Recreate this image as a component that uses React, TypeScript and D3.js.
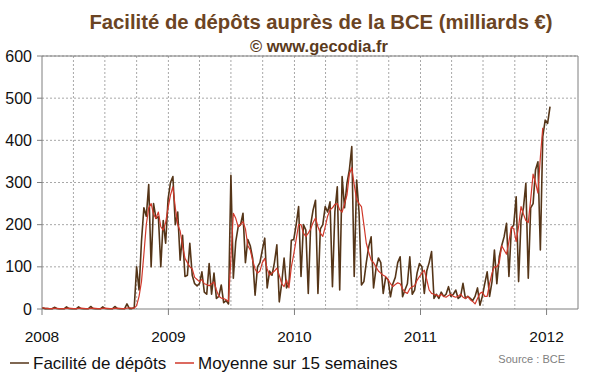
import React from "react";
import * as d3 from "d3";

// Weekly observations starting 2008-01-02 (milliards €)
const START_DATE = "2008-01-02";

const depots: number[] = [
  3, 1, 1, 0.5, 0.5, 4, 1, 0.5, 0.5, 0.5, 5, 1, 0.5, 0.5, 0.5, 5, 1, 0.5, 0.5, 0.5,
  6, 1, 0.5, 0.5, 0.5, 5, 1, 0.5, 0.5, 0.5, 6, 1, 0.5, 0.5, 0.5, 12, 1, 1,
  3, 100, 45, 160, 240, 220, 295, 100, 250, 215,
  219, 100, 210, 156, 260, 300, 314, 200, 230, 116,
  175, 77, 80, 156, 80, 60, 55, 60, 88, 40,
  35, 108, 35, 85, 25, 30, 57, 15, 20, 12,
  317, 73, 160, 195, 200, 227, 110, 165, 150, 120,
  33, 100, 110, 140, 168, 50, 90, 80, 110, 152,
  17, 60, 121, 50, 60, 163, 165, 200, 243, 77,
  200, 187, 37, 200, 235, 258, 37, 190, 200, 243,
  230, 254, 53, 230, 290, 45, 314, 240, 298, 330,
  385, 77, 306, 230, 57, 65, 110, 148, 171, 50,
  95, 121, 110, 37, 75, 70, 29, 60, 75, 110,
  124, 29, 45, 60, 124, 35, 45, 85, 108, 100,
  37, 90, 110, 136, 25, 35, 25, 40, 30, 35,
  53, 30, 35, 45, 25, 30, 61, 25, 30, 25,
  20, 30, 50, 9, 30, 60, 88, 30, 65, 140,
  60, 124, 150, 171, 203, 77, 190, 200, 266, 65,
  210, 240, 298, 73, 240, 250, 330, 349, 140, 409,
  448, 440, 480,
];

const moyenne: number[] = [
  3, 2, 1.5, 1, 1, 1.5, 1.5, 1, 1, 1, 1.5, 2, 1.5, 1, 1, 1.5, 2, 1.5, 1, 1,
  1.5, 2, 1.5, 1, 1, 1.5, 2, 1.5, 1, 1, 1.5, 2, 1.5, 1, 1, 2, 3, 2,
  2, 8, 30, 65, 130, 200, 240, 250, 225, 215,
  230, 195, 187, 205, 240, 270, 290, 240, 200, 185,
  150, 120, 110, 100, 95, 75, 70, 65, 70, 60,
  58, 55, 60, 64, 45, 30, 26, 25, 22, 18,
  120, 227, 215, 195, 200, 207, 190, 150, 140, 115,
  95, 85, 90, 110, 120, 95, 80, 85, 90, 97,
  80, 60, 53, 69, 50, 100, 130, 165, 200, 200,
  180, 172, 180, 190, 205, 216, 195, 180, 172, 195,
  220, 235, 240, 248, 250, 235, 230, 250, 270, 320,
  335, 295, 260, 250, 243, 200, 156, 135, 116, 110,
  100, 90, 85, 80, 77, 70, 60, 53, 58, 62,
  60, 48, 40, 37, 48, 53, 55, 68, 77, 85,
  92, 70, 45, 37, 35, 33, 30, 35, 30, 28,
  32, 35, 30, 28, 30, 35, 28, 25, 30, 22,
  18, 12, 25, 37, 40, 30, 30, 60, 85, 100,
  100, 110, 150, 140, 130, 160, 195, 190, 160, 195,
  243, 225, 210, 205, 260, 320, 300, 275, 360, 430,
];

const yTickValues = [0, 100, 200, 300, 400, 500, 600];
const yearLabels = ["2008", "2009", "2010", "2011", "2012"];

const TITLE = "Facilité de dépôts auprès de la BCE (milliards €)";
const SUBTITLE = "© www.gecodia.fr";
const LEGEND_DEPOTS = "Facilité de dépôts";
const LEGEND_MOYENNE = "Moyenne sur 15 semaines";
const SOURCE = "Source : BCE";

const FONT = "'Liberation Sans', Arial, sans-serif";

export default function App() {
  const W = 600;
  const H = 372;
  const left = 42, right = 578, top = 56, bottom = 309;

  const x = d3
    .scaleTime()
    .domain([new Date(2008, 0, 1), new Date(2012, 3, 1)])
    .range([left, right]);
  const y = d3.scaleLinear().domain([0, 600]).range([bottom, top]);

  const start = d3.timeParse("%Y-%m-%d")(START_DATE) as Date;
  const dateOf = (i: number) => d3.timeWeek.offset(start, i);

  const line = d3
    .line<number>()
    .x((_, i) => x(dateOf(i)))
    .y((d) => y(d));

  const quarters = d3.timeMonth
    .every(3)!
    .range(new Date(2008, 0, 1), new Date(2012, 3, 1));
  const years = yearLabels.map((s) => new Date(+s, 0, 1));

  const brown = "#553518";
  const red = "#d0392b";
  const gridColor = "#a8a8a8";
  const axisColor = "#7f7f7f";

  return (
    <svg
      width={W}
      height={H}
      style={{ position: "absolute", left: 0, top: 0, background: "#fff" }}
      fontFamily={FONT}
    >
      <rect x={0} y={0} width={W} height={H} fill="#fff" />
      {/* Title */}
      <text x={321} y={29} textAnchor="middle" fontSize={20.3} fontWeight="bold" fill="#6b4423">
        {TITLE}
      </text>
      <text x={319} y={52} textAnchor="middle" fontSize={16.5} fontWeight="bold" fill="#5a3a1c">
        {SUBTITLE}
      </text>

      {/* Grid */}
      {yTickValues
        .filter((v) => v > 0)
        .map((v) => (
          <line
            key={"gy" + v}
            x1={left}
            x2={right}
            y1={y(v)}
            y2={y(v)}
            stroke={gridColor}
            strokeWidth={1}
            strokeDasharray="2,2"
          />
        ))}
      {quarters
        .filter((d) => x(d) > left + 1)
        .map((d, i) => (
          <line
            key={"gx" + i}
            x1={x(d)}
            x2={x(d)}
            y1={top}
            y2={bottom}
            stroke={gridColor}
            strokeWidth={1}
            strokeDasharray="2,2"
          />
        ))}

      {/* Border */}
      <line x1={left} x2={right} y1={top} y2={top} stroke={axisColor} />
      <line x1={right} x2={right} y1={top} y2={bottom} stroke={axisColor} />
      <line x1={left} x2={left} y1={top} y2={bottom} stroke={axisColor} />
      <line x1={left} x2={right} y1={bottom} y2={bottom} stroke={axisColor} />

      {/* Y axis ticks/labels */}
      {yTickValues.map((v) => (
        <g key={"yt" + v}>
          <line x1={left - 5} x2={left} y1={y(v)} y2={y(v)} stroke={axisColor} />
          <text x={32} y={y(v) + 5.5} textAnchor="end" fontSize={16} fill="#111">
            {v}
          </text>
        </g>
      ))}

      {/* X axis ticks/labels */}
      {years.map((d, i) => (
        <g key={"xt" + i}>
          <line x1={x(d)} x2={x(d)} y1={bottom} y2={bottom + 6} stroke={axisColor} />
          <text x={x(d)} y={342} textAnchor="middle" fontSize={15.5} fill="#111">
            {yearLabels[i]}
          </text>
        </g>
      ))}

      {/* Series */}
      <path d={line(depots) || ""} fill="none" stroke={brown} strokeWidth={1.6} strokeLinejoin="round" />
      <path d={line(moyenne) || ""} fill="none" stroke={red} strokeWidth={1.2} strokeLinejoin="round" />

      {/* Legend */}
      <line x1={10} x2={29} y1={363} y2={363} stroke={brown} strokeWidth={1.5} />
      <text x={33} y={369} fontSize={17} fill="#111">
        {LEGEND_DEPOTS}
      </text>
      <line x1={175} x2={194} y1={363} y2={363} stroke={red} strokeWidth={1.5} />
      <text x={198} y={369} fontSize={17} fill="#111">
        {LEGEND_MOYENNE}
      </text>
      <text x={565} y={363} textAnchor="end" fontSize={11} fill="#808080">
        {SOURCE}
      </text>
    </svg>
  );
}
